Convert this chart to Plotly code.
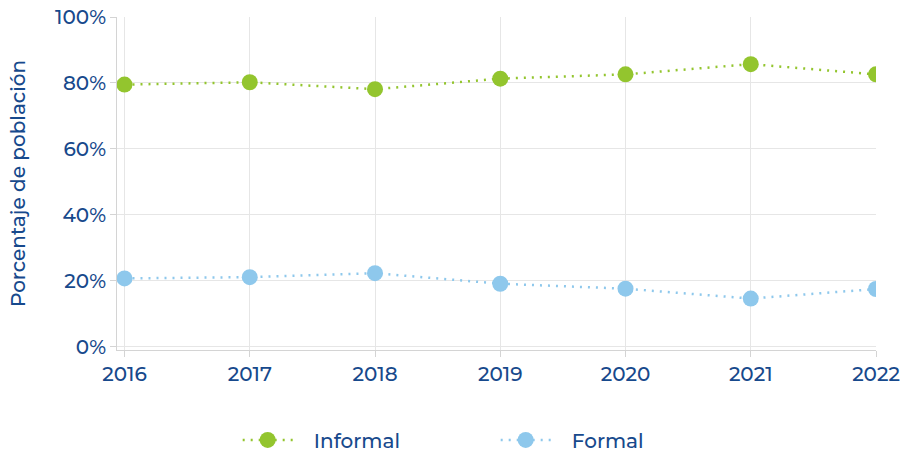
import plotly.graph_objects as go

years = [2016, 2017, 2018, 2019, 2020, 2021, 2022]
informal = [79.5, 80.2, 78.1, 81.3, 82.6, 85.7, 82.6]
formal = [20.7, 21.1, 22.3, 19.1, 17.6, 14.6, 17.5]
yticks = [0, 20, 40, 60, 80, 100]
ytick_labels = ["0%", "20%", "40%", "60%", "80%", "100%"]
series_names = ["Informal", "Formal"]

TEXT = "#17498c"
FONT = "Montserrat, Lato, Noto Sans, sans-serif"
GREEN = "#93c52e"
BLUE = "#8ec8ec"
PAD = "\u00a0\u00a0\u00a0"

fig = go.Figure()
fig.add_trace(go.Scatter(
    x=years, y=informal, name=PAD + series_names[0], mode="lines+markers",
    line=dict(color=GREEN, width=2.5, dash="2px,6px"),
    marker=dict(color=GREEN, size=16),
))
fig.add_trace(go.Scatter(
    x=years, y=formal, name=PAD + series_names[1], mode="lines+markers",
    line=dict(color=BLUE, width=2.5, dash="2px,6px"),
    marker=dict(color=BLUE, size=16),
))

fig.update_layout(
    width=900, height=457,
    margin=dict(l=117, r=24, t=17, b=107, autoexpand=False),
    paper_bgcolor="white", plot_bgcolor="white",
    font=dict(family=FONT, color=TEXT, size=20, weight=500),
    showlegend=True,
    legend=dict(orientation="h", x=0.159, xanchor="left", y=-0.27, yanchor="middle",
                font=dict(size=20, color=TEXT, weight=500), entrywidth=193, itemwidth=50),
)
fig.update_xaxes(
    range=[2015.94, 2022], tickvals=years, ticktext=[str(y) for y in years],
    showgrid=True, gridcolor="#e6e6e6", gridwidth=1,
    showline=True, linecolor="#d4d4d4", linewidth=1,
    ticks="outside", ticklen=6, tickcolor="#d4d4d4",
    tickfont=dict(size=20, color=TEXT, weight=500), zeroline=False, automargin=False,
    ticklabeloverflow="allow",
)
fig.update_yaxes(
    range=[-1, 100], tickvals=yticks, ticktext=ytick_labels,
    showgrid=True, gridcolor="#e6e6e6", gridwidth=1,
    showline=True, linecolor="#d4d4d4", linewidth=1,
    ticks="outside", ticklen=6, tickcolor="#d4d4d4",
    tickfont=dict(size=20, color=TEXT, weight=500), zeroline=False, automargin=False,
    ticklabeloverflow="allow",
    title=dict(text="Porcentaje de población", font=dict(size=20, color=TEXT, weight=500), standoff=24),
)

fig.write_html("out.html",
               config={"displayModeBar": False},
               post_script="document.body.style.margin='0';document.body.style.overflow='hidden';")
